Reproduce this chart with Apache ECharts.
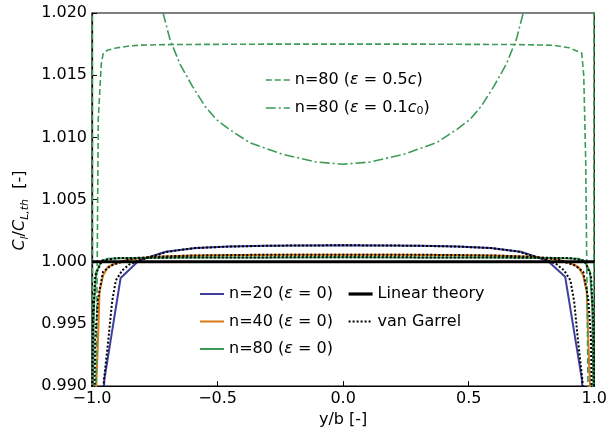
<!DOCTYPE html>
<html>
<head>
<meta charset="utf-8">
<script src="https://cdn.jsdelivr.net/npm/echarts@6/dist/echarts.min.js"></script>
<style>
  html, body { margin: 0; padding: 0; background: #fff; }
  #chart { width: 610px; height: 433px; }
</style>
</head>
<body>
<div id="chart"></div>
<script>
// Spanwise lift distribution normalised by the linear-theory lift coefficient.
const xTicks = [-1.0, -0.5, 0.0, 0.5, 1.0];
const yTicks = [0.990, 0.995, 1.000, 1.005, 1.010, 1.015, 1.020];

// n = 20 panels, eps = 0
const n20X = [-0.988, -0.951, -0.886, -0.813, -0.707, -0.588, -0.454, -0.309, -0.156, 0, 0.156, 0.309, 0.454, 0.588, 0.707, 0.813, 0.884, 0.951, 0.988];
const n20Y = [0.972, 0.9905, 0.9987, 1.0001, 1.0008, 1.0011, 1.00122, 1.00128, 1.00131, 1.00132, 1.00131, 1.00128, 1.00122, 1.0011, 1.0008, 1.0001, 0.9988, 0.9905, 0.972];

// n = 40 panels, eps = 0
const n40X = [-0.995, -0.983, -0.976, -0.970, -0.956, -0.937, -0.904, -0.85, -0.75, -0.6, -0.4, -0.2, 0, 0.2, 0.4, 0.6, 0.75, 0.85, 0.904, 0.937, 0.956, 0.970, 0.976, 0.983, 0.995];
const n40Y = [0.975, 0.990, 0.9938, 0.9976, 0.9989, 0.99958, 0.9999, 1.0002, 1.0004, 1.0005, 1.00055, 1.00056, 1.00057, 1.00056, 1.00055, 1.0005, 1.0004, 1.0002, 0.9999, 0.99958, 0.9989, 0.9976, 0.9938, 0.990, 0.975];

// n = 80 panels, eps = 0
const n80X = [-0.9995, -0.996, -0.992, -0.983, -0.963, -0.937, -0.85, -0.6, -0.3, 0, 0.3, 0.6, 0.85, 0.937, 0.963, 0.983, 0.992, 0.996, 0.9995];
const n80Y = [0.975, 0.9904, 0.9965, 0.9992, 1.0000, 1.00024, 1.0003, 1.00034, 1.00035, 1.00036, 1.00035, 1.00034, 1.0003, 1.00024, 1.0000, 0.9992, 0.9965, 0.9904, 0.975];

// van Garrel reference solutions for the same three discretisations
const vg20X = [-0.975, -0.953, -0.935, -0.92, -0.905, -0.88, -0.85, -0.8, -0.7, -0.588, -0.454, -0.309, -0.156, 0, 0.156, 0.309, 0.454, 0.588, 0.7, 0.8, 0.85, 0.88, 0.905, 0.92, 0.935, 0.953, 0.975];
const vg20Y = [0.978, 0.9904, 0.9937, 0.9968, 0.9985, 0.9993, 0.9998, 1.0002, 1.0008, 1.0011, 1.00122, 1.00128, 1.00131, 1.00132, 1.00131, 1.00128, 1.00122, 1.0011, 1.0008, 1.0002, 0.9998, 0.9993, 0.9985, 0.9968, 0.9937, 0.9904, 0.978];
const vg40X = [-0.995, -0.989, -0.987, -0.976, -0.956, -0.923, -0.85, -0.75, -0.6, -0.4, -0.2, 0, 0.2, 0.4, 0.6, 0.75, 0.85, 0.923, 0.956, 0.976, 0.987, 0.989, 0.995];
const vg40Y = [0.975, 0.9906, 0.9938, 0.997, 0.9992, 0.9997, 1.0002, 1.0004, 1.0005, 1.00055, 1.00056, 1.00057, 1.00056, 1.00055, 1.0005, 1.0004, 1.0002, 0.9997, 0.9992, 0.997, 0.9938, 0.9906, 0.975];
const vg80X = [-0.9998, -0.996, -0.987, -0.96, -0.9, -0.6, -0.3, 0, 0.3, 0.6, 0.9, 0.96, 0.987, 0.996, 0.9998];
const vg80Y = [0.988, 0.9952, 0.9989, 1.0001, 1.0003, 1.00034, 1.00035, 1.00036, 1.00035, 1.00034, 1.0003, 1.0001, 0.9989, 0.9952, 0.988];

// Linear theory
const linX = [-1, 1];
const linY = [1, 1];

// n = 80, eps = 0.5c
const e05X = [-0.9995, -0.997, -0.986, -0.975, -0.963, -0.956, -0.94, -0.9, -0.85, -0.8, -0.7, -0.5, -0.25, 0, 0.25, 0.5, 0.7, 0.8, 0.84, 0.9, 0.95, 0.958, 0.966, 0.975, 0.985, 0.997, 0.9995];
const e05Y = [1.035, 0.975, 0.982, 1.0115, 1.0159, 1.0167, 1.0170, 1.0172, 1.01735, 1.01742, 1.01746, 1.01748, 1.0175, 1.0175, 1.0175, 1.01748, 1.01746, 1.01742, 1.0174, 1.0172, 1.01678, 1.0150, 1.0080, 0.990, 0.975, 0.975, 1.035];

// n = 80, eps = 0.1c0
const e01X = [-0.8, -0.75, -0.717, -0.69, -0.65, -0.6, -0.55, -0.505, -0.45, -0.373, -0.241, -0.108, 0, 0.108, 0.241, 0.373, 0.45, 0.505, 0.55, 0.6, 0.65, 0.69, 0.717, 0.75, 0.8];
const e01Y = [1.030, 1.0235, 1.0200, 1.0179, 1.0159, 1.0141, 1.0125, 1.01144, 1.0106, 1.00958, 1.00864, 1.00802, 1.00784, 1.00802, 1.00864, 1.00958, 1.0106, 1.01144, 1.0125, 1.0141, 1.0159, 1.0179, 1.0200, 1.0235, 1.030];

const BLUE = '#3f3f9b';
const ORANGE = '#d97b17';
const GREEN = '#3d9b58';
const FONT = 'DejaVu Sans';

const pairs = (xs, ys) => xs.map((x, i) => [x, ys[i]]);

function lineSeries(name, xs, ys, color, width, type, z) {
  return {
    name: name,
    type: 'line',
    data: pairs(xs, ys),
    symbol: 'none',
    showSymbol: false,
    clip: true,
    animation: false,
    z: z,
    lineStyle: { color: color, width: width, type: type },
    itemStyle: { color: color }
  };
}

const baseText = { fontFamily: FONT, fontSize: 16, color: '#000', lineHeight: 18 };
const legendRich = {
  n: Object.assign({}, baseText),
  it: Object.assign({}, baseText, { fontStyle: 'italic' }),
  sub: Object.assign({}, baseText, { fontSize: 11, lineHeight: 10, verticalAlign: 'bottom', fontStyle: 'normal' })
};

const legendLabels = {
  'n=80 (eps=0.5c)': '{n|n=80 (}{it|ε}{n| = 0.5}{it|c}{n|)}',
  'n=80 (eps=0.1c0)': '{n|n=80 (}{it|ε}{n| = 0.1}{it|c}{sub|0}{n|)}',
  'n=20 (eps=0)': '{n|n=20 (}{it|ε}{n| = 0)}',
  'n=40 (eps=0)': '{n|n=40 (}{it|ε}{n| = 0)}',
  'n=80 (eps=0)': '{n|n=80 (}{it|ε}{n| = 0)}',
  'Linear theory': '{n|Linear theory}',
  'van Garrel': '{n|van Garrel}'
};

function legend(names, left, top, gap) {
  return {
    data: names,
    orient: 'vertical',
    left: left,
    top: top,
    itemWidth: 24,
    itemHeight: 14,
    itemGap: gap,
    padding: 0,
    selectedMode: false,
    itemStyle: { opacity: 0 },
    lineStyle: { width: 'inherit' },
    formatter: n => legendLabels[n],
    textStyle: { fontFamily: FONT, fontSize: 16, color: '#000', rich: legendRich }
  };
}

const chart = echarts.init(document.getElementById('chart'), null, { renderer: 'canvas' });

chart.setOption({
  animation: false,
  backgroundColor: '#fff',
  grid: { left: 92, right: 14, top: 13, bottom: 45, show: true, borderColor: '#000', borderWidth: 1.2, backgroundColor: 'transparent' },
  legend: [
    legend(['n=80 (eps=0.5c)', 'n=80 (eps=0.1c0)'], 265, 72, 12),
    legend(['n=20 (eps=0)', 'n=40 (eps=0)', 'n=80 (eps=0)'], 199, 286, 11.5),
    legend(['Linear theory', 'van Garrel'], 347, 286, 11.5)
  ],
  xAxis: {
    type: 'value',
    min: xTicks[0],
    max: xTicks[xTicks.length - 1],
    interval: 0.5,
    name: 'y/b [-]',
    nameLocation: 'middle',
    nameGap: 24,
    nameTextStyle: { fontFamily: FONT, fontSize: 16, color: '#000' },
    axisLine: { onZero: false, lineStyle: { color: '#000', width: 1.2 } },
    axisTick: { inside: true, length: 5, lineStyle: { color: '#000', width: 1 } },
    axisLabel: {
      fontFamily: FONT, fontSize: 16, color: '#000', margin: 5,
      showMinLabel: true, showMaxLabel: true,
      formatter: v => v.toFixed(1).replace('-', '\u2212')
    },
    splitLine: { show: false }
  },
  yAxis: {
    type: 'value',
    min: yTicks[0],
    max: yTicks[yTicks.length - 1],
    interval: 0.005,
    name: '{it|C}{sub|l}{n|/}{it|C}{sub|L,th}{n|  [-]}',
    nameLocation: 'middle',
    nameGap: 57,
    nameTextStyle: {
      fontFamily: FONT, fontSize: 16, color: '#000',
      padding: [0, 22, 0, 0],
      rich: {
        n: { fontFamily: FONT, fontSize: 16, color: '#000', lineHeight: 20 },
        it: { fontFamily: FONT, fontSize: 16, color: '#000', fontStyle: 'italic', lineHeight: 20 },
        sub: { fontFamily: FONT, fontSize: 11, color: '#000', fontStyle: 'italic', lineHeight: 12, verticalAlign: 'bottom' }
      }
    },
    axisLine: { onZero: false, lineStyle: { color: '#000', width: 1.2 } },
    axisTick: { inside: true, length: 5, lineStyle: { color: '#000', width: 1 } },
    axisLabel: {
      fontFamily: FONT, fontSize: 16, color: '#000', margin: 5,
      showMinLabel: true, showMaxLabel: true,
      formatter: v => v.toFixed(3)
    },
    splitLine: { show: false }
  },
  series: [
    lineSeries('n=20 (eps=0)', n20X, n20Y, BLUE, 2, 'solid', 2),
    lineSeries('n=40 (eps=0)', n40X, n40Y, ORANGE, 2, 'solid', 2),
    lineSeries('n=80 (eps=0)', n80X, n80Y, GREEN, 2, 'solid', 2),
    lineSeries('n=80 (eps=0.5c)', e05X, e05Y, GREEN, 1.6, [6, 3], 2),
    lineSeries('n=80 (eps=0.1c0)', e01X, e01Y, GREEN, 1.6, [10, 3, 2, 3], 2),
    lineSeries('Linear theory', linX, linY, '#000', 3.2, 'solid', 3),
    lineSeries('van Garrel', vg20X, vg20Y, '#000', 2, [2, 2], 4),
    lineSeries('van Garrel', vg40X, vg40Y, '#000', 2, [2, 2], 4),
    lineSeries('van Garrel', vg80X, vg80Y, '#000', 2, [2, 2], 4)
  ]
});
</script>
</body>
</html>
